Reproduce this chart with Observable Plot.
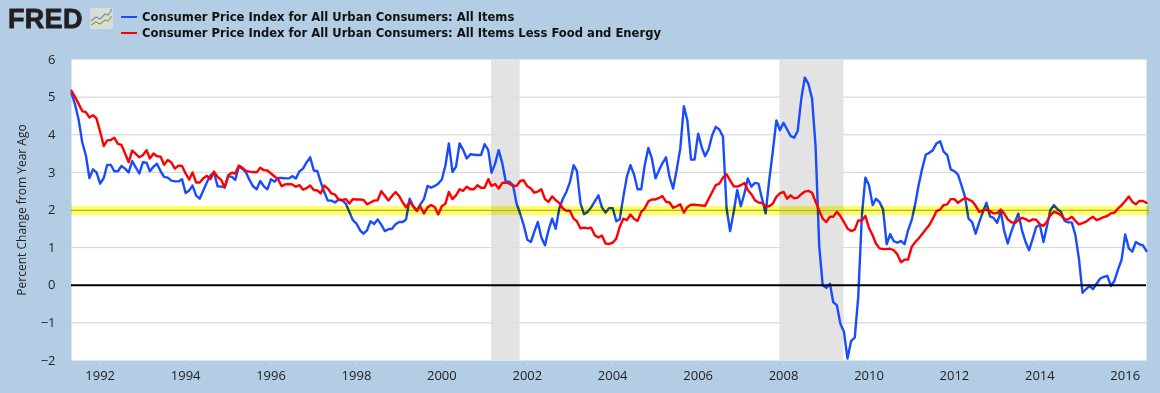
<!DOCTYPE html>
<html><head><meta charset="utf-8">
<script src="https://cdn.jsdelivr.net/npm/d3@7"></script>
<script src="https://cdn.jsdelivr.net/npm/@observablehq/plot@0.6"></script>
<style>
html,body{margin:0;padding:0;background:#b3cde5;width:1160px;height:393px;overflow:hidden}
#wrap{position:relative;width:1160px;height:393px}
#logo{position:absolute;left:8px;top:2px;font:900 27px/34px "Liberation Sans",Arial,sans-serif;color:#231f20;letter-spacing:.3px;-webkit-text-stroke:.8px #231f20}
#icon{position:absolute;left:90px;top:8px}
#legend{position:absolute;left:121px;top:9px;font:bold 11.58px/16px "DejaVu Sans",sans-serif;color:#111}
#legend div{display:flex;align-items:center;white-space:nowrap;height:16px}
#legend i{display:inline-block;width:16px;height:2px;margin-right:5px}
</style></head><body><div id="wrap">
<div id="logo">FRED</div>
<svg id="icon" width="23" height="21" viewBox="0 0 23 21"><rect width="23" height="21" rx="1" fill="#dcdcd6"/><polyline points="1,13 6,9 10,11 15,6 18,7 22,1" fill="none" stroke="#6f90a8" stroke-width="1.2"/><polyline points="1,17 6,14 10,16 15,12 18,13 22,8" fill="none" stroke="#86a34e" stroke-width="1.2"/></svg>
<div id="legend"></div>
<div id="chart"></div>
</div>
<script>
const seriesNames = ["Consumer Price Index for All Urban Consumers: All Items","Consumer Price Index for All Urban Consumers: All Items Less Food and Energy"];
const seriesColors = ["#1a4cff","#ff0000"];
const startMonth = "1991-05-01";
const yTicks = [-2,-1,0,1,2,3,4,5,6];
const yAxisTitle = "Percent Change from Year Ago";
const tickYears = [1992,1994,1996,1998,2000,2002,2004,2006,2008,2010,2012,2014,2016];
const recessions = [["2001-03-01","2001-11-01"],["2007-12-01","2009-06-01"]];
const targetRate = [2];
const allItems = [
5.1,4.8,4.4,3.8,3.45,2.85,3.08,3.0,
2.7,2.85,3.2,3.2,3.03,3.03,3.17,3.1,3.0,3.3,3.13,2.97,
3.27,3.26,3.03,3.15,3.23,3.03,2.88,2.86,2.78,2.76,2.76,2.82,
2.45,2.52,2.65,2.38,2.3,2.52,2.73,2.92,3.0,2.63,2.62,2.6,
2.9,2.88,2.8,3.15,3.1,3.0,2.8,2.63,2.55,2.77,2.63,2.55,
2.82,2.75,2.85,2.85,2.84,2.84,2.9,2.84,3.03,3.1,3.27,3.4,
3.05,3.03,2.75,2.47,2.25,2.25,2.2,2.28,2.26,2.17,1.95,1.73,
1.64,1.46,1.37,1.46,1.7,1.63,1.75,1.61,1.44,1.49,1.5,1.62,
1.68,1.68,1.75,2.3,2.1,1.98,2.15,2.29,2.64,2.59,2.64,2.7,
2.81,3.19,3.77,3.01,3.15,3.77,3.6,3.37,3.48,3.47,3.46,3.46,
3.75,3.59,2.99,3.24,3.59,3.24,2.75,2.75,2.66,2.17,1.9,1.6,
1.21,1.15,1.42,1.68,1.27,1.06,1.46,1.77,1.5,2.04,2.3,2.48,
2.75,3.19,3.04,2.17,1.89,1.95,2.07,2.23,2.39,2.07,1.93,2.05,
2.05,1.7,1.75,2.35,2.88,3.19,2.95,2.55,2.55,3.19,3.65,3.37,
2.84,3.06,3.24,3.4,2.88,2.57,3.06,3.63,4.76,4.37,3.34,3.34,
4.03,3.66,3.43,3.62,3.99,4.21,4.14,3.95,2.04,1.44,1.95,2.53,
2.1,2.44,2.84,2.62,2.72,2.7,2.3,1.91,2.8,3.55,4.38,4.12,
4.32,4.14,3.97,3.92,4.1,4.96,5.52,5.35,4.96,3.7,1.05,0.0,
-0.07,0.04,-0.45,-0.53,-1.02,-1.24,-1.95,-1.48,-1.39,-0.31,1.85,2.86,
2.66,2.13,2.3,2.21,2.02,1.09,1.36,1.17,1.13,1.18,1.09,1.46,
1.73,2.17,2.66,3.1,3.47,3.52,3.59,3.77,3.83,3.55,3.46,3.08,
3.03,2.94,2.66,2.35,1.77,1.68,1.37,1.68,1.95,2.19,1.83,1.79,
1.66,1.97,1.46,1.11,1.42,1.68,1.9,1.46,1.15,0.93,1.24,1.55,
1.61,1.15,1.55,2.0,2.13,2.02,1.95,1.71,1.67,1.67,1.33,0.71,
-0.2,-0.1,-0.02,-0.1,0.04,0.18,0.22,0.25,-0.02,0.12,0.42,0.68,
1.35,0.98,0.89,1.15,1.09,1.06,0.91];
const lessFoodEnergy = [
5.17,5.0,4.82,4.63,4.6,4.46,4.52,4.43,
4.08,3.7,3.85,3.86,3.92,3.76,3.73,3.5,3.27,3.58,3.49,3.4,
3.46,3.59,3.37,3.5,3.43,3.42,3.2,3.33,3.26,3.1,3.18,3.17,
2.97,2.81,3.0,2.73,2.73,2.84,2.91,2.82,3.02,2.88,2.8,2.6,
2.93,2.99,2.97,3.18,3.12,3.04,3.02,3.01,3.0,3.12,3.06,3.05,
2.97,2.89,2.82,2.63,2.68,2.69,2.68,2.62,2.66,2.54,2.58,2.65,
2.53,2.52,2.44,2.65,2.57,2.44,2.41,2.28,2.26,2.29,2.17,2.29,
2.28,2.28,2.27,2.15,2.2,2.25,2.26,2.5,2.38,2.25,2.37,2.48,
2.37,2.2,2.07,2.22,2.1,1.98,2.1,1.91,2.07,2.13,2.08,1.88,
2.1,2.17,2.48,2.29,2.39,2.55,2.51,2.62,2.55,2.55,2.66,2.59,
2.59,2.82,2.64,2.69,2.57,2.72,2.73,2.7,2.64,2.64,2.77,2.79,
2.63,2.57,2.46,2.49,2.55,2.29,2.22,2.36,2.26,2.19,2.04,1.98,
1.98,1.77,1.7,1.51,1.53,1.51,1.53,1.33,1.27,1.32,1.11,1.1,
1.13,1.24,1.55,1.77,1.73,1.88,1.77,1.71,1.95,2.04,2.23,2.28,
2.28,2.32,2.37,2.22,2.2,2.06,2.1,2.15,1.93,2.08,2.14,2.14,
2.13,2.12,2.11,2.3,2.48,2.66,2.7,2.86,2.95,2.79,2.63,2.62,
2.66,2.72,2.53,2.42,2.26,2.2,2.19,2.1,2.1,2.17,2.35,2.44,
2.48,2.3,2.39,2.31,2.33,2.42,2.49,2.51,2.46,2.22,1.99,1.77,
1.68,1.82,1.82,1.95,1.84,1.68,1.51,1.44,1.48,1.72,1.72,1.84,
1.52,1.33,1.11,0.98,0.96,0.96,0.97,0.93,0.82,0.61,0.68,0.68,
1.02,1.15,1.24,1.36,1.48,1.6,1.77,1.97,2.01,2.13,2.15,2.29,
2.29,2.19,2.26,2.32,2.28,2.23,2.11,1.95,1.99,2.01,1.97,1.91,
1.92,2.01,1.91,1.75,1.68,1.65,1.73,1.79,1.76,1.7,1.75,1.74,
1.62,1.58,1.68,1.86,1.95,1.92,1.86,1.75,1.75,1.82,1.71,1.62,
1.65,1.69,1.76,1.82,1.73,1.77,1.81,1.84,1.91,1.93,2.04,2.13,
2.24,2.36,2.22,2.15,2.24,2.24,2.19];

const start = new Date(startMonth+"T00:00Z");
const monthOf = i => d3.utcMonth.offset(start, i);
const toRows = vals => vals.map((v,i)=>({date:monthOf(i),value:v}));
const endDate = monthOf(allItems.length-1);
const d = s => new Date(s+"T00:00Z");
document.getElementById("legend").innerHTML = seriesNames.map((n,i)=>`<div><i style="background:${seriesColors[i]}"></i>${n}</div>`).join("");

const font = '"Open Sans","Noto Sans",sans-serif';
const bandEnd = d("2016-07-26");
const chart = Plot.plot({
  width:1160,height:393,
  marginLeft:71,marginRight:14,marginTop:59,marginBottom:33,
  style:{background:"transparent",fontFamily:font,fontSize:"12px",color:"#222",overflow:"visible"},
  x:{type:"utc",domain:[start,endDate]},
  y:{domain:[-2,6]},
  marks:[
    Plot.frame({fill:"#fff",stroke:null}),
    Plot.ruleY(yTicks.filter(t=>t>-2&&t<6),{stroke:"#d6d6d6",strokeWidth:1}),
    Plot.rectX(recessions,{x1:r=>d(r[0]),x2:r=>d(r[1]),fill:"#e3e3e3"}),
    Plot.ruleY(yTicks.filter(t=>t>-2&&t<6&&t!==0),{stroke:"#d6d6d6",strokeWidth:1,strokeOpacity:.35}),
    Plot.axisY({ticks:yTicks,tickSize:0,tickPadding:16,label:null,tickFormat:d3.format("d"),fontSize:13}),
    Plot.text([yAxisTitle],{frameAnchor:"left",textAnchor:"middle",rotate:-90,dx:-49,fontSize:12,fill:"#222"}),
    Plot.axisX({ticks:tickYears.map(y=>d(y+"-01-01")),tickFormat:d3.utcFormat("%Y"),tickSize:6,tickPadding:4,stroke:"#c4d6e8",label:null,fontSize:13}),
    Plot.line(toRows(allItems),{x:"date",y:"value",stroke:seriesColors[0],strokeWidth:2.4,curve:"linear"}),
    Plot.line(toRows(lessFoodEnergy),{x:"date",y:"value",stroke:seriesColors[1],strokeWidth:2.4,curve:"linear"}),
    Plot.ruleY([0],{stroke:"#000",strokeWidth:2}),
    Plot.ruleY(targetRate,{x1:start,x2:bandEnd,stroke:"#ffff66",strokeWidth:9,dy:0.5,mixBlendMode:"multiply"}),
    Plot.ruleY(targetRate,{x1:start,x2:bandEnd,stroke:"#c8c8a0",strokeWidth:1,dy:0.5,mixBlendMode:"multiply"})
  ]
});
document.getElementById("chart").appendChild(chart);
</script></body></html>
